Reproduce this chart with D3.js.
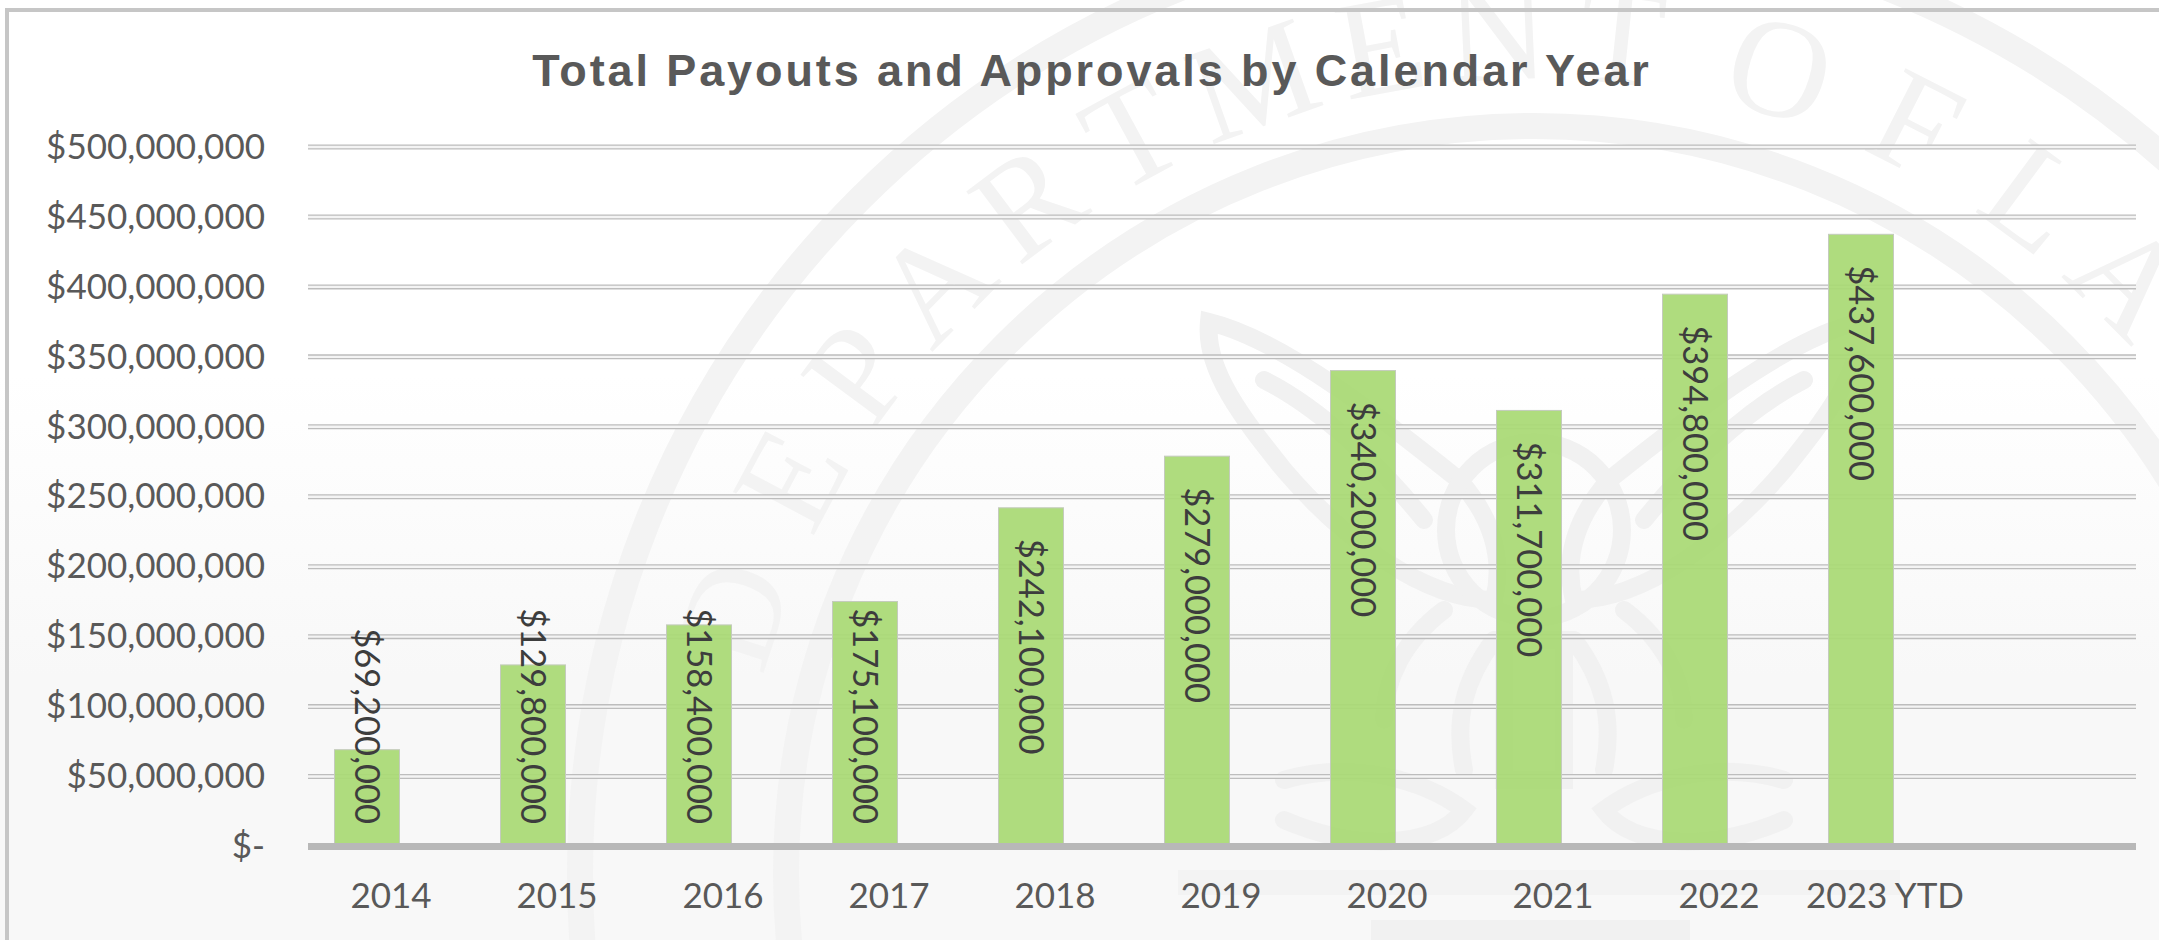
<!DOCTYPE html>
<html>
<head>
<meta charset="utf-8">
<script src="https://cdn.jsdelivr.net/npm/d3@7"></script>
<style>
  html, body { margin: 0; padding: 0; background: #fff; overflow: hidden; }
  svg { display: block; }
  .tick text { font-family: Lato, sans-serif; font-size: 35px; fill: #595959; }
  .label { font-family: Lato, sans-serif; font-size: 34.5px; fill: #3d3d3d; }
  .title { font-family: "Liberation Sans", Arial, sans-serif; font-weight: bold; font-size: 45px; fill: #595959; }
  .seal { font-family: "Liberation Serif", serif; font-size: 140px; fill: #f3f3f3; }
</style>
</head>
<body>
<svg width="2159" height="940"></svg>
<script>
const categories = ["2014", "2015", "2016", "2017", "2018", "2019", "2020", "2021", "2022", "2023 YTD"];
const payouts = [69200000, 129800000, 158400000, 175100000, 242100000, 279000000, 340200000, 311700000, 394800000, 437600000];
const labels = ["$69,200,000", "$129,800,000", "$158,400,000", "$175,100,000", "$242,100,000", "$279,000,000", "$340,200,000", "$311,700,000", "$394,800,000", "$437,600,000"];
const yTicks = [0, 50000000, 100000000, 150000000, 200000000, 250000000, 300000000, 350000000, 400000000, 450000000, 500000000];
const yTickLabels = ["$-", "$50,000,000", "$100,000,000", "$150,000,000", "$200,000,000", "$250,000,000", "$300,000,000", "$350,000,000", "$400,000,000", "$450,000,000", "$500,000,000"];
const sealLetters = ["D", "E", "P", "A", "R", "T", "M", "E", "N", "T", "O", "F", "L", "A"];
const sealAngles = [-72, -62, -53.5, -45.5, -37, -28.5, -19.5, -10.5, -2.5, 6, 17, 27, 36.5, 45];

const left = 308;
const right = 2136;
const base = 846.5;
const top_ = 147;

const svg = d3.select("svg");

// page background, fades to a light grey further down
const grad = svg.append("defs").append("linearGradient")
  .attr("id", "bg").attr("x1", 0).attr("x2", 0).attr("y1", 0).attr("y2", 1);
grad.append("stop").attr("offset", 0.4).attr("stop-color", "#ffffff");
grad.append("stop").attr("offset", 0.72).attr("stop-color", "#f8f8f8");
svg.append("rect").attr("width", 2159).attr("height", 940).attr("fill", "url(#bg)");

// faint department seal behind the chart
const cx = 1534, cy = 874;
const seal = svg.append("g");
[[954, 26], [748, 26]].forEach(r => {
  seal.append("circle").attr("cx", cx).attr("cy", cy).attr("r", r[0])
    .attr("fill", "none").attr("stroke", "#f3f3f3").attr("stroke-width", r[1]);
});
seal.selectAll("text").data(sealLetters).enter().append("text")
  .attr("class", "seal")
  .attr("text-anchor", "middle")
  .attr("transform", (d, i) => `translate(${cx}, ${cy}) rotate(${sealAngles[i]}) translate(0, -795)`)
  .text(d => d);

const eagle = seal.append("g").attr("transform", `translate(${cx}, 0)`)
  .attr("fill", "none").attr("stroke", "#f1f1f1").attr("stroke-width", 18).attr("stroke-linecap", "round");
[1, -1].forEach(s => {
  const w = eagle.append("g").attr("transform", `scale(${s}, 1)`);
  w.append("path").attr("d", "M-325,322 C-250,340 -150,420 -75,480 C-40,520 -30,560 -40,600 C-110,600 -190,540 -250,470 C-290,420 -330,370 -325,322 Z");
  w.append("path").attr("d", "M-270,380 C-210,410 -150,470 -110,520");
  w.append("path").attr("d", "M-90,610 C-130,640 -150,680 -150,720");
  w.append("path").attr("d", "M-40,640 C-70,680 -80,720 -70,770");
  w.append("path").attr("d", "M-250,780 C-180,760 -110,780 -70,810 C-100,850 -180,850 -250,820");
});
eagle.append("circle").attr("cy", 530).attr("r", 88);
eagle.append("path").attr("d", "M-30,640 L-30,780 L30,780 L30,640 Z");
seal.append("rect").attr("x", 1178).attr("y", 870).attr("width", 722).attr("height", 25).attr("fill", "#f3f3f3");
seal.append("rect").attr("x", 1371).attr("y", 920).attr("width", 319).attr("height", 20).attr("fill", "#f1f1f1");

// frame, top and left only
svg.append("path").attr("d", "M7,940 L7,10 L2159,10")
  .attr("fill", "none").attr("stroke", "#c6c6c6").attr("stroke-width", 4);

const yScale = d3.scaleLinear().domain([0, 500000000]).range([base, top_]);
const xScale = d3.scaleBand().domain(categories).range([left, left + 1660]);

const barWidth = 65;
const barShift = -24; // bars sit left of their year labels in the original

// double gridlines: grey line with a light core
const gridTicks = yTicks.filter(t => t > 0);
[["#bdbdbd", 5], ["#f4f4f4", 2.4]].forEach(g => {
  svg.append("g").selectAll("line").data(gridTicks).enter().append("line")
    .attr("x1", left).attr("x2", right)
    .attr("y1", d => yScale(d)).attr("y2", d => yScale(d))
    .attr("stroke", g[0]).attr("stroke-width", g[1]);
});

svg.append("g").selectAll("rect").data(payouts).enter().append("rect")
  .attr("x", (d, i) => xScale(categories[i]) + xScale.bandwidth() / 2 + barShift - barWidth / 2)
  .attr("y", d => yScale(d))
  .attr("width", barWidth)
  .attr("height", d => base - yScale(d))
  .attr("fill", "#a9d974")
  .attr("fill-opacity", 0.93)
  .attr("stroke", "#c4cbbd")
  .attr("stroke-width", 1);

// thick baseline
svg.append("rect").attr("x", left).attr("y", base - 3.5).attr("width", right - left).attr("height", 7).attr("fill", "#b8b8b8");

const yAxis = svg.append("g")
  .attr("transform", `translate(${left}, 0)`)
  .call(d3.axisLeft(yScale).tickValues(yTicks).tickSize(0).tickPadding(43).tickFormat((d, i) => yTickLabels[i]));
yAxis.select(".domain").remove();

const xAxis = svg.append("g")
  .attr("transform", `translate(0, ${base + 37})`)
  .call(d3.axisBottom(xScale).tickSize(0).tickPadding(0));
xAxis.select(".domain").remove();

// vertical value labels: near the bar top, pushed up when they would not fit
const labelFloor = 824;
svg.append("g").selectAll("text").data(payouts).enter().append("text")
  .attr("class", "label")
  .text((d, i) => labels[i])
  .attr("transform", function (d, i) {
    const len = this.getComputedTextLength();
    const start = Math.min(yScale(d) + 31, labelFloor - len);
    const x = xScale(categories[i]) + xScale.bandwidth() / 2 + barShift;
    return `translate(${x}, ${start}) rotate(90)`;
  })
  .attr("dy", "0.35em");

svg.append("text")
  .attr("class", "title")
  .attr("x", 1092)
  .attr("y", 86)
  .attr("text-anchor", "middle")
  .attr("letter-spacing", 2.9)
  .text("Total Payouts and Approvals by Calendar Year");
</script>
</body>
</html>
